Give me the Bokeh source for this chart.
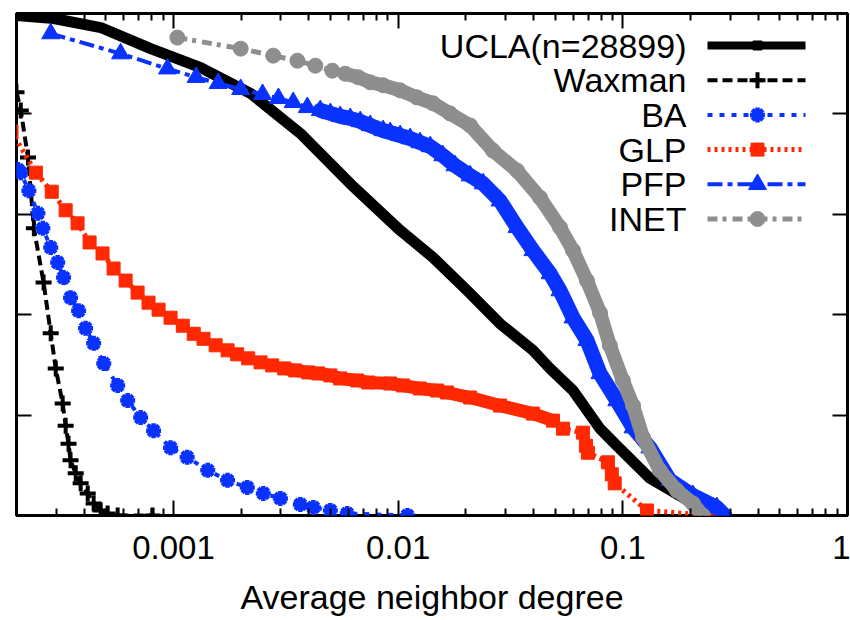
import math
from bokeh.plotting import figure
from bokeh.models import LogAxis, LinearAxis, FixedTicker, Range1d, CustomJSTickFormatter, Label
from bokeh.embed import file_html
from bokeh.resources import INLINE

# ---------------- data ----------------
x_ticks = [0.001, 0.01, 0.1, 1]
x_tick_labels = ["0.001", "0.01", "0.1", "1"]
y_ticks = [0.0, 0.2, 0.4, 0.6, 0.8, 1.0]
x_label = "Average neighbor degree"

series_names = ["UCLA(n=28899)", "Waxman", "BA", "GLP", "PFP", "INET"]

ucla_x = [0.0002, 0.000293, 0.000474, 0.000791, 0.00132, 0.0022, 0.00367, 0.00612, 0.0102,
          0.0143, 0.0203, 0.0284, 0.0398, 0.0474, 0.06, 0.0791, 0.094, 0.132, 0.185, 0.227, 0.251]
ucla_y = [0.996, 0.990, 0.972, 0.930, 0.892, 0.841, 0.761, 0.661, 0.568,
          0.514, 0.448, 0.382, 0.329, 0.293, 0.249, 0.173, 0.139, 0.074, 0.036, 0.010, 0.0]

waxman_x = [0.0002, 0.000209, 0.000225, 0.000239, 0.000264, 0.000284, 0.000299, 0.000321, 0.000331,
            0.000341, 0.000348, 0.000367, 0.000386, 0.000415, 0.000441, 0.000474, 0.000509, 0.000564, 0.000807]
waxman_y = [0.843, 0.807, 0.713, 0.572, 0.464, 0.363, 0.293, 0.223, 0.179,
            0.143, 0.110, 0.084, 0.064, 0.044, 0.024, 0.010, 0.004, 0.0, 0.0]

ba_x = [0.000203, 0.000209, 0.000227, 0.000249, 0.000262, 0.000284, 0.000305, 0.000324, 0.000348, 0.000378,
        0.000406, 0.000441, 0.000489, 0.000564, 0.000625, 0.000714, 0.000815, 0.00097, 0.00115, 0.00142,
        0.00174, 0.00213, 0.00251, 0.00299, 0.00367, 0.00419, 0.00499, 0.00593, 0.011]
ba_y = [0.689, 0.683, 0.647, 0.602, 0.572, 0.534, 0.504, 0.474, 0.434, 0.408,
        0.373, 0.343, 0.303, 0.259, 0.229, 0.195, 0.169, 0.135, 0.116, 0.090,
        0.070, 0.056, 0.044, 0.034, 0.022, 0.016, 0.010, 0.004, 0.0]

glp_x = [0.00019, 0.000244, 0.000287, 0.000331, 0.000374, 0.000423, 0.000483, 0.000541, 0.000612, 0.000692,
         0.000774, 0.000858, 0.00097, 0.0011, 0.00123, 0.00136, 0.00154, 0.00174, 0.00192, 0.00215,
         0.00244, 0.00275, 0.00311, 0.00348, 0.00398, 0.00441, 0.00499, 0.00552, 0.00657, 0.00736,
         0.00921, 0.0105, 0.0125, 0.0149, 0.0165, 0.0209, 0.0284, 0.0398, 0.0489, 0.0541,
         0.0664, 0.0685, 0.0699, 0.0858, 0.0893, 0.092, 0.128, 0.249]
glp_y = [0.765, 0.683, 0.645, 0.608, 0.582, 0.544, 0.522, 0.492, 0.468, 0.444,
         0.424, 0.410, 0.394, 0.378, 0.362, 0.352, 0.339, 0.329, 0.321, 0.313,
         0.305, 0.299, 0.293, 0.289, 0.285, 0.283, 0.279, 0.273, 0.269, 0.265,
         0.263, 0.259, 0.253, 0.249, 0.245, 0.235, 0.219, 0.203, 0.189, 0.173,
         0.165, 0.139, 0.125, 0.106, 0.082, 0.064, 0.010, 0.0]

pfp_x = [0.000284, 0.000581, 0.00094, 0.00126, 0.00158, 0.00199, 0.00249, 0.00293, 0.00341, 0.00394,
         0.0045, 0.00499, 0.00552, 0.00612, 0.00678, 0.00751, 0.00857, 0.00921, 0.0102, 0.0113,
         0.0125, 0.0139, 0.0158, 0.0179, 0.0209, 0.0239, 0.0284, 0.0338, 0.0398, 0.0474,
         0.0525, 0.06, 0.0692, 0.0791, 0.094, 0.111, 0.132, 0.162, 0.205, 0.262, 0.284]
pfp_y = [0.960, 0.920, 0.890, 0.873, 0.861, 0.849, 0.839, 0.831, 0.823, 0.813,
         0.807, 0.801, 0.795, 0.791, 0.785, 0.777, 0.767, 0.763, 0.757, 0.751,
         0.743, 0.735, 0.717, 0.697, 0.677, 0.661, 0.627, 0.574, 0.528, 0.482,
         0.448, 0.394, 0.349, 0.283, 0.229, 0.175, 0.135, 0.070, 0.040, 0.016, 0.0]

inet_x = [0.00104, 0.00199, 0.00278, 0.00356, 0.00428, 0.00509, 0.00581, 0.00664, 0.00751, 0.00857,
          0.0102, 0.0121, 0.0143, 0.017, 0.0209, 0.0264, 0.0338, 0.0428, 0.0525, 0.06,
          0.0692, 0.0791, 0.0875, 0.1, 0.111, 0.123, 0.146, 0.174, 0.205, 0.227]
inet_y = [0.952, 0.930, 0.916, 0.906, 0.896, 0.886, 0.880, 0.873, 0.863, 0.857,
          0.847, 0.833, 0.821, 0.801, 0.777, 0.727, 0.687, 0.633, 0.574, 0.528,
          0.468, 0.404, 0.339, 0.269, 0.219, 0.155, 0.090, 0.050, 0.024, 0.0]

# ---------------- styling ----------------
FONT = "Liberation Sans"
BLACK, BLUE, RED, GRAY = "#000000", "#0a32ff", "#ff2800", "#8e8e8e"
X_MIN, X_MAX = 0.0002, 1.0
FW, FH = 831, 502

styles = [
    dict(color=BLACK, width=8, dash="solid", marker="square", size=9, mlw=1, band=11, band_from=0.0, band_to=1.0),
    dict(color=BLACK, width=4, dash="10 5", marker="cross", size=16, mlw=4, band=None),
    dict(color=BLUE, width=4, dash="5 7", marker="asterisk", size=15, mlw=4.5, band=None),
    dict(color=RED, width=5, dash="3 4", marker="square", size=13, mlw=1, band=13, band_from=0.0031, band_to=0.049),
    dict(color=BLUE, width=4, dash="15 5 5 5", marker="triangle", size=18, mlw=1, band=15, band_from=0.0045, band_to=1.0),
    dict(color=GRAY, width=5, dash="10 5 4 6", marker="circle", size=15, mlw=1, band=14, band_from=0.0058, band_to=1.0),
]
data = [(ucla_x, ucla_y), (waxman_x, waxman_y), (ba_x, ba_y), (glp_x, glp_y), (pfp_x, pfp_y), (inet_x, inet_y)]
LINE_MARKERS = ("cross", "asterisk")


def fx2x(fx):
    return 10 ** (math.log10(X_MIN) + fx / FW * math.log10(X_MAX / X_MIN))


def fy2y(fy):
    return 1.0 - fy / FH


p = figure(x_axis_type="log", x_range=Range1d(X_MIN, X_MAX), y_range=Range1d(0.0, 1.0),
           frame_width=FW, frame_height=FH,
           min_border_left=16, min_border_right=3, min_border_top=13, min_border_bottom=0,
           output_backend="svg", toolbar_location=None)
p.grid.visible = False
p.outline_line_color = "black"
p.outline_line_width = 3
p.background_fill_color = "white"
p.border_fill_color = "white"

x_minor = [m * 10 ** e for e in range(-4, 0) for m in range(2, 10)]
label_js = CustomJSTickFormatter(args=dict(vals=x_ticks, labels=x_tick_labels), code="""
for (let i = 0; i < vals.length; i++) {
  if (Math.abs(Math.log10(tick) - Math.log10(vals[i])) < 1e-6) return labels[i];
}
return "";
""")
blank = CustomJSTickFormatter(code="return '';")


def style_axis(ax):
    ax.axis_line_color = None
    ax.major_tick_in = 15
    ax.major_tick_out = 0
    ax.minor_tick_in = 7
    ax.minor_tick_out = 0
    ax.major_tick_line_width = 2
    ax.minor_tick_line_width = 2
    ax.major_tick_line_color = "black"
    ax.minor_tick_line_color = "black"


bottom = p.xaxis[0]
bottom.ticker = FixedTicker(ticks=x_ticks, minor_ticks=x_minor)
bottom.formatter = label_js
bottom.major_label_text_font = FONT
bottom.major_label_text_font_size = "33px"
bottom.major_label_text_color = "black"
bottom.major_label_standoff = 20
bottom.axis_label = x_label
bottom.axis_label_text_font = FONT
bottom.axis_label_text_font_size = "34px"
bottom.axis_label_text_font_style = "normal"
bottom.axis_label_text_color = "black"
bottom.axis_label_standoff = 16
style_axis(bottom)

left = p.yaxis[0]
left.ticker = FixedTicker(ticks=y_ticks)
left.formatter = blank
left.major_label_text_font_size = "1px"
left.major_label_standoff = 0
style_axis(left)

top = LogAxis(ticker=FixedTicker(ticks=x_ticks, minor_ticks=x_minor), formatter=blank,
              major_label_text_font_size="1px", major_label_standoff=0)
style_axis(top)
p.add_layout(top, "above")

right = LinearAxis(ticker=FixedTicker(ticks=y_ticks), formatter=blank,
                   major_label_text_font_size="1px", major_label_standoff=0)
style_axis(right)
p.add_layout(right, "right")


def draw_markers(xs, ys, st):
    if st["marker"] in LINE_MARKERS:
        p.scatter(xs, ys, marker=st["marker"], size=st["size"], line_color=st["color"], line_width=st["mlw"])
    else:
        p.scatter(xs, ys, marker=st["marker"], size=st["size"], fill_color=st["color"],
                  line_color=st["color"], line_width=st["mlw"])


# ---------------- series ----------------
for k, ((xs, ys), st) in enumerate(zip(data, styles)):
    if st["band"]:
        bx = [x for x in xs if st["band_from"] <= x <= st["band_to"]]
        by = [y for x, y in zip(xs, ys) if st["band_from"] <= x <= st["band_to"]]
        p.line(bx, by, line_color=st["color"], line_width=st["band"], line_join="round", line_cap="round")
    p.line(xs, ys, line_color=st["color"], line_width=st["width"], line_dash=st["dash"])
    if k > 0:
        draw_markers(xs, ys, st)

# ---------------- legend (gnuplot style: text then sample) ----------------
for i, (name, st) in enumerate(zip(series_names, styles)):
    yy = fy2y(32 + 34.7 * i)
    p.add_layout(Label(x=fx2x(670), y=yy, text=name, text_align="right", text_baseline="middle",
                       text_font=FONT, text_font_size="34px", text_color="black"))
    p.line([fx2x(691), fx2x(789)], [yy, yy], line_color=st["color"], line_width=st["width"], line_dash=st["dash"])
    draw_markers([fx2x(741)], [yy], st)

open("out.html", "w").write(file_html(p, INLINE))
